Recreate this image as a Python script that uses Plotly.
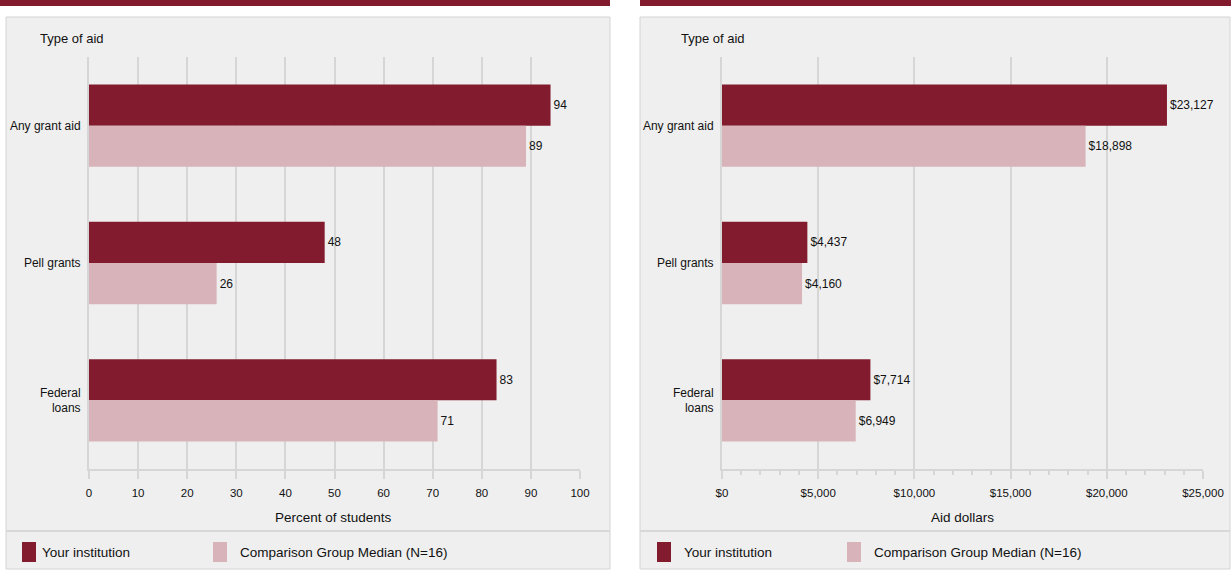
import plotly.graph_objects as go

categories = ["Any grant aid", "Pell grants", "Federal<br>loans"]
pct_inst = [94, 48, 83]
pct_comp = [89, 26, 71]
amt_inst = [23127, 4437, 7714]
amt_comp = [18898, 4160, 6949]
series_names = ["Your institution", "Comparison Group Median (N=16)"]
pct_ticks = list(range(0, 101, 10))
amt_ticks = [0, 5000, 10000, 15000, 20000, 25000]

W, H = 1231, 571
DARK = "#821b2e"
LIGHT = "#d8b3b9"
BG = "#efefef"
GRID = "#d6d6d6"
FONT = "Liberation Sans, Arial, sans-serif"
TXT = "#111"

def px(x):
    return x / W

def py(y):
    return 1 - y / H

fig = go.Figure()

fig.add_trace(go.Bar(y=categories, x=pct_inst, orientation="h", marker_color=DARK,
                     name=series_names[0], text=pct_inst, textposition="outside",
                     cliponaxis=False, xaxis="x", yaxis="y", showlegend=False))
fig.add_trace(go.Bar(y=categories, x=pct_comp, orientation="h", marker_color=LIGHT,
                     name=series_names[1], text=pct_comp, textposition="outside",
                     cliponaxis=False, xaxis="x", yaxis="y", showlegend=False))
fig.add_trace(go.Bar(y=categories, x=amt_inst, orientation="h", marker_color=DARK,
                     name=series_names[0], texttemplate="$%{x:,}", textposition="outside",
                     cliponaxis=False, xaxis="x2", yaxis="y2", showlegend=False))
fig.add_trace(go.Bar(y=categories, x=amt_comp, orientation="h", marker_color=LIGHT,
                     name=series_names[1], texttemplate="$%{x:,}", textposition="outside",
                     cliponaxis=False, xaxis="x2", yaxis="y2", showlegend=False))

fig.update_traces(textfont=dict(size=12, color=TXT, family=FONT), marker_line_width=0)

ydom = [py(469), py(57)]
common_x = dict(showgrid=True, gridcolor=GRID, gridwidth=2, showline=True, linecolor=GRID,
                linewidth=2, ticks="outside", ticklen=8, tickcolor=GRID, tickwidth=2,
                zeroline=False, tickfont=dict(size=11.5, color=TXT, family=FONT),
                ticklabelstandoff=4, fixedrange=True, automargin=False)
common_y = dict(autorange="reversed", showline=True, linecolor=GRID, linewidth=2,
                showgrid=False, ticks="", ticklabelstandoff=4,
                tickfont=dict(size=12, color=TXT, family=FONT), fixedrange=True,
                automargin=False)

fig.update_layout(
    width=W, height=H,
    margin=dict(l=0, r=0, t=0, b=0),
    paper_bgcolor="white", plot_bgcolor="rgba(0,0,0,0)",
    font=dict(family=FONT, color=TXT),
    barmode="group", bargap=0.4, bargroupgap=0,
    xaxis=dict(domain=[px(89), px(580)], range=[0, 100], tickvals=pct_ticks,
               anchor="y", **common_x),
    yaxis=dict(domain=ydom, anchor="x", **common_y),
    xaxis2=dict(domain=[px(722), px(1203)], range=[0, 25000], tickvals=amt_ticks,
                tickformat="$,", anchor="y2",
                minor=dict(dtick=1000, ticks="outside", ticklen=4, tickcolor=GRID, showgrid=False),
                **common_x),
    yaxis2=dict(domain=ydom, anchor="x2", **common_y),
)

shapes = []
annotations = []

panels = [
    dict(x0=6, x1=610, band0=0, band1=610, title_x=38, axis_title="Percent of students",
         axis_cx=333, sq1=22, t1=40, sq2=213, t2=238),
    dict(x0=640, x1=1230, band0=640, band1=1231, title_x=679, axis_title="Aid dollars",
         axis_cx=962, sq1=657, t1=682, sq2=847, t2=872),
]
for p in panels:
    shapes.append(dict(type="rect", xref="paper", yref="paper", x0=px(p["band0"]), x1=px(p["band1"]),
                       y0=py(6), y1=py(0), fillcolor=DARK, line_width=0, layer="below"))
    shapes.append(dict(type="rect", xref="paper", yref="paper", x0=px(p["x0"]), x1=px(p["x1"]),
                       y0=py(569), y1=py(17), fillcolor=BG, line=dict(color="#d4d4d4", width=1),
                       layer="below"))
    shapes.append(dict(type="line", xref="paper", yref="paper", x0=px(p["x0"]), x1=px(p["x1"]),
                       y0=py(531), y1=py(531), line=dict(color="#d8d8d8", width=2), layer="below"))
    shapes.append(dict(type="rect", xref="paper", yref="paper", x0=px(p["sq1"]), x1=px(p["sq1"] + 14),
                       y0=py(562), y1=py(542), fillcolor=DARK, line_width=0))
    shapes.append(dict(type="rect", xref="paper", yref="paper", x0=px(p["sq2"]), x1=px(p["sq2"] + 14),
                       y0=py(562), y1=py(542), fillcolor=LIGHT, line_width=0))
    annotations.append(dict(xref="paper", yref="paper", x=px(p["title_x"]), y=py(39), text="Type of aid",
                            showarrow=False, xanchor="left", yanchor="middle",
                            font=dict(size=13, color=TXT, family=FONT)))
    annotations.append(dict(xref="paper", yref="paper", x=px(p["axis_cx"]), y=py(517), text=p["axis_title"],
                            showarrow=False, xanchor="center", yanchor="middle",
                            font=dict(size=13.5, color=TXT, family=FONT)))
    annotations.append(dict(xref="paper", yref="paper", x=px(p["t1"]), y=py(552), text=series_names[0],
                            showarrow=False, xanchor="left", yanchor="middle",
                            font=dict(size=13.5, color=TXT, family=FONT)))
    annotations.append(dict(xref="paper", yref="paper", x=px(p["t2"]), y=py(552), text=series_names[1],
                            showarrow=False, xanchor="left", yanchor="middle",
                            font=dict(size=13.5, color=TXT, family=FONT)))

fig.update_layout(shapes=shapes, annotations=annotations)
fig.write_html("out.html")
